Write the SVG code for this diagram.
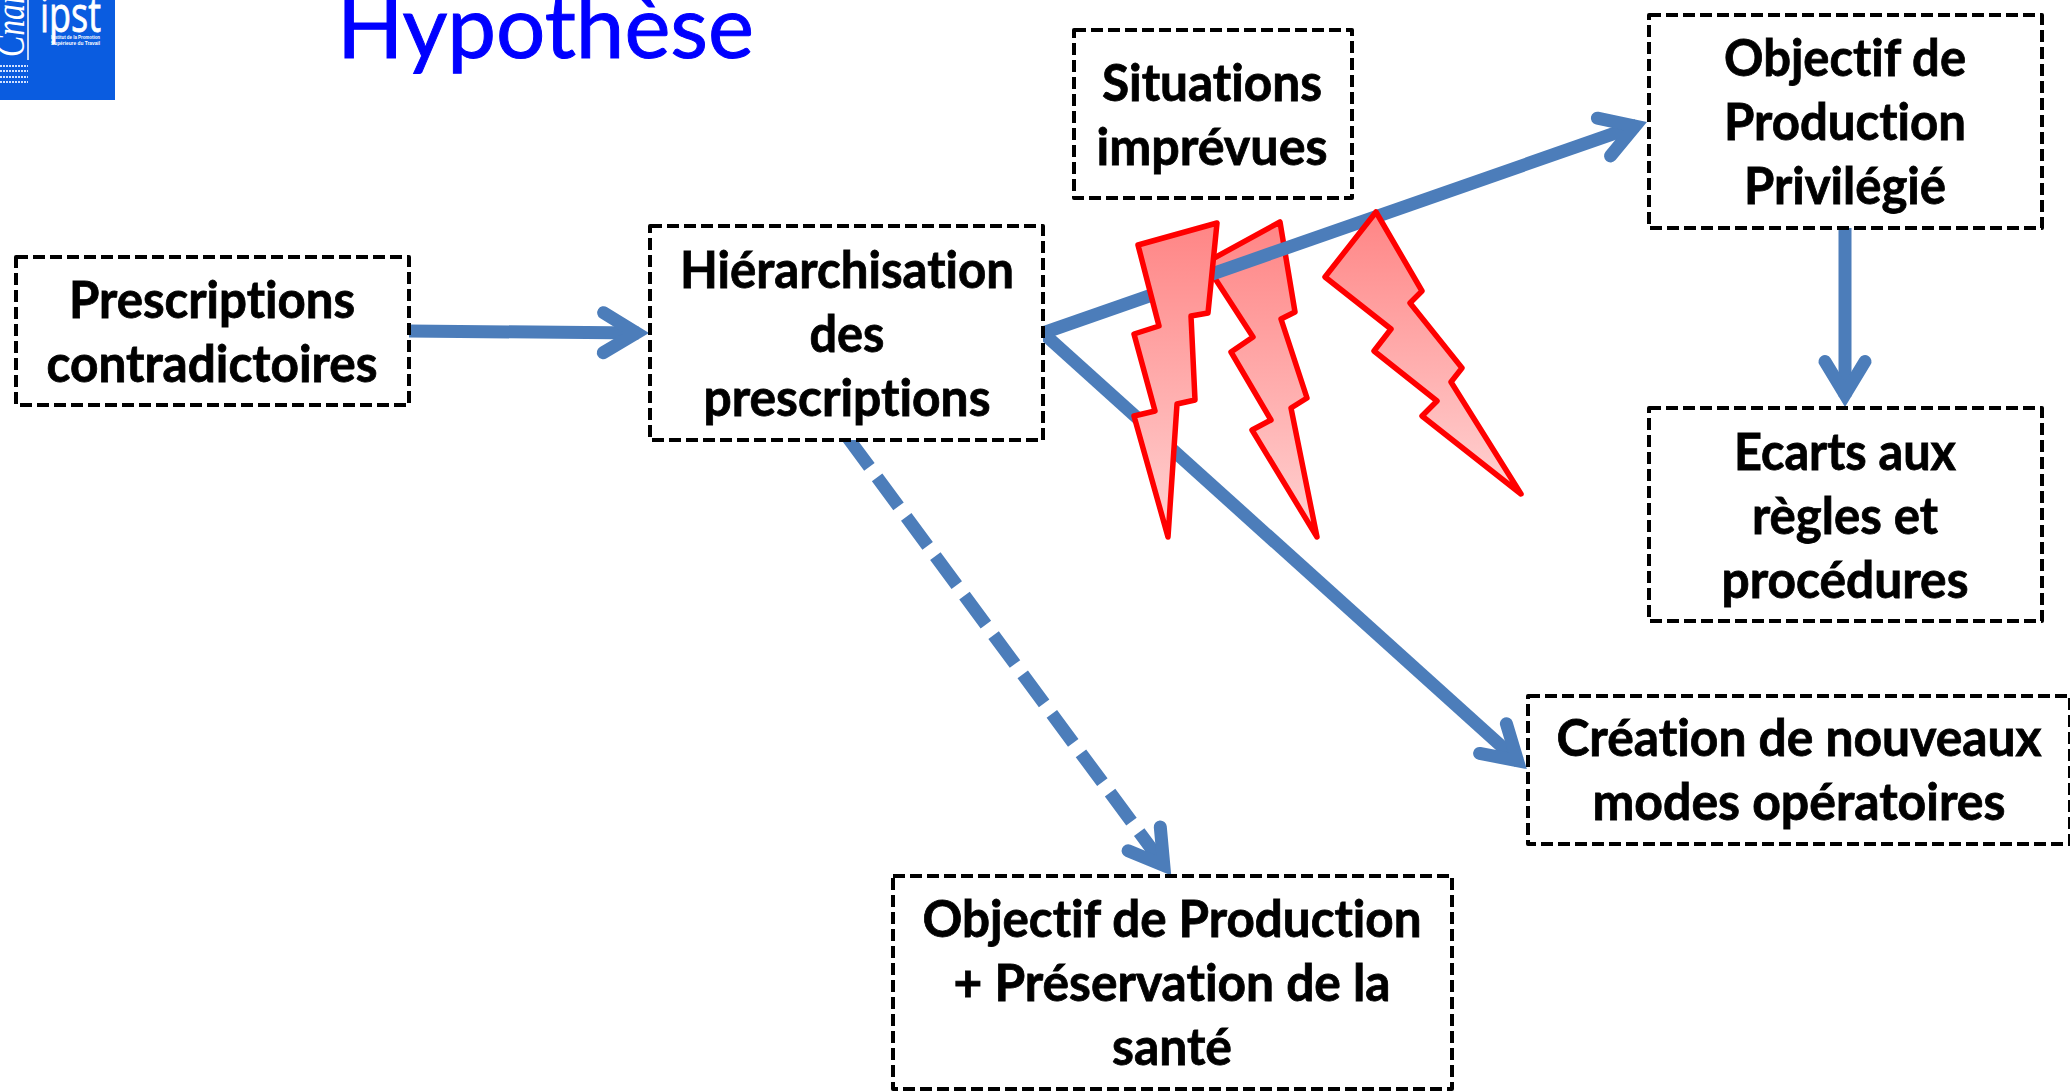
<svg xmlns="http://www.w3.org/2000/svg" width="2070" height="1091" viewBox="0 0 2070 1091">
<style>
.box{fill:#fff;stroke:#000;stroke-width:4;stroke-dasharray:12 5;stroke-linejoin:round}
.t{font-family:Lato,"Liberation Sans",sans-serif;font-weight:700;font-size:51px;fill:#000;stroke:#000;stroke-width:.8;text-anchor:middle;font-variant-ligatures:none}
.c{fill:none;stroke:#4c7dba;stroke-width:13;marker-end:url(#head)}
.b{stroke:#f00;stroke-width:5.500;stroke-linejoin:round;fill:url(#g)}
.s{font-family:"Liberation Sans",sans-serif;font-size:5.500px;font-weight:700;fill:#fff}
</style>
<defs>
<linearGradient id="g" x1="0" y1="0" x2="0" y2="1"><stop offset="0" stop-color="#ff8585"/><stop offset="1" stop-color="#ffd2d2"/></linearGradient>
<marker id="head" markerUnits="userSpaceOnUse" markerWidth="70" markerHeight="70" refX="44" refY="35" orient="auto" overflow="visible"><path d="M9 15L42 35L9 55" fill="none" stroke="#4c7dba" stroke-width="13" stroke-linecap="round" stroke-miterlimit="10"/></marker>
</defs>
<rect width="2070" height="1091" fill="#fff"/>
<g id="logo">
<rect x="0" y="0" width="115" height="100" fill="#0a5ce0"/>
<text x="40" y="32" font-family="Open Sans,sans-serif" font-size="50" fill="#fff" stroke="#fff" stroke-width=".8" textLength="61" lengthAdjust="spacingAndGlyphs">ipst</text>
<text class="s" x="51" y="39" textLength="49" lengthAdjust="spacingAndGlyphs">Institut de la Promotion</text>
<text class="s" x="51" y="44.500" textLength="49" lengthAdjust="spacingAndGlyphs">Supérieure du Travail</text>
<text transform="translate(24,57) rotate(-90)" font-family="Liberation Serif,serif" font-style="italic" font-size="42" fill="#fff" textLength="76" lengthAdjust="spacingAndGlyphs">Cnam</text>
<path d="M28 0V60" stroke="#fff" stroke-width="1.500"/>
<path d="M0 66H28M0 71H28M0 77H28M0 82H28" stroke="#cfe0ff" stroke-width="1.800" stroke-dasharray="2 1"/>
</g>
<text id="title" x="337" y="58" font-family="Lato,sans-serif" font-size="88" fill="#0000ff" stroke="#0000ff" stroke-width="1" textLength="417" lengthAdjust="spacingAndGlyphs">Hypothèse</text>
<g id="bolt2"><polygon class="b" points="1280,222 1295,312 1281,319 1307,398 1291,408 1317,537 1252,430 1271,420 1231,352 1253,337 1205,263"/></g>
<g id="connectors">
<path class="c" d="M409 331L638.500 333"/>
<path class="c" d="M1043 333L1637 125.500"/>
<path class="c" d="M1043 333L1519 762"/>
<path class="c" d="M848 438L1165 867" stroke-dasharray="36 13"/>
<path class="c" d="M1845 228L1845 396.500"/>
</g>
<g id="bolt1"><polygon class="b" points="1138,245 1217,223 1208,313 1191,316 1195,400 1177,404 1168,537 1134,416 1155,411 1134,334 1159,326"/></g>
<g id="bolt3"><polygon class="b" points="1376,212 1422,291 1410,303 1462,368 1451,382 1521,494 1422,416 1437,401 1374,351 1391,329 1325,277"/></g>
<g id="n1"><rect class="box" x="16" y="257" width="393" height="148"/><text class="t" x="212" y="318" textLength="286" lengthAdjust="spacingAndGlyphs">Prescriptions</text><text class="t" x="212" y="382" textLength="331" lengthAdjust="spacingAndGlyphs">contradictoires</text></g>
<g id="n2"><rect class="box" x="650" y="226" width="393" height="214"/><text class="t" x="847" y="288" textLength="334" lengthAdjust="spacingAndGlyphs">Hiérarchisation</text><text class="t" x="847" y="352" textLength="75" lengthAdjust="spacingAndGlyphs">des</text><text class="t" x="847" y="416" textLength="287" lengthAdjust="spacingAndGlyphs">prescriptions</text></g>
<g id="n3"><rect class="box" x="1074" y="30" width="278" height="168"/><text class="t" x="1212" y="101" textLength="220" lengthAdjust="spacingAndGlyphs">Situations</text><text class="t" x="1212" y="165" textLength="231" lengthAdjust="spacingAndGlyphs">imprévues</text></g>
<g id="n4"><rect class="box" x="1649" y="15" width="393" height="213"/><text class="t" x="1845" y="76" textLength="242" lengthAdjust="spacingAndGlyphs">Objectif de</text><text class="t" x="1845" y="140" textLength="242" lengthAdjust="spacingAndGlyphs">Production</text><text class="t" x="1845" y="204" textLength="202" lengthAdjust="spacingAndGlyphs">Privilégié</text></g>
<g id="n5"><rect class="box" x="1649" y="408" width="393" height="213"/><text class="t" x="1845" y="470" textLength="222" lengthAdjust="spacingAndGlyphs">Ecarts aux</text><text class="t" x="1845" y="534" textLength="186" lengthAdjust="spacingAndGlyphs">règles et</text><text class="t" x="1845" y="598" textLength="247" lengthAdjust="spacingAndGlyphs">procédures</text></g>
<g id="n6"><rect class="box" x="1528" y="696" width="542" height="148"/><text class="t" x="1799" y="756" textLength="485" lengthAdjust="spacingAndGlyphs">Création de nouveaux</text><text class="t" x="1799" y="820" textLength="413" lengthAdjust="spacingAndGlyphs">modes opératoires</text></g>
<g id="n7"><rect class="box" x="893" y="876" width="559" height="213"/><text class="t" x="1172" y="937" textLength="499" lengthAdjust="spacingAndGlyphs">Objectif de Production</text><text class="t" x="1172" y="1001" textLength="437" lengthAdjust="spacingAndGlyphs">+ Préservation de la</text><text class="t" x="1172" y="1065" textLength="120" lengthAdjust="spacingAndGlyphs">santé</text></g>
</svg>
